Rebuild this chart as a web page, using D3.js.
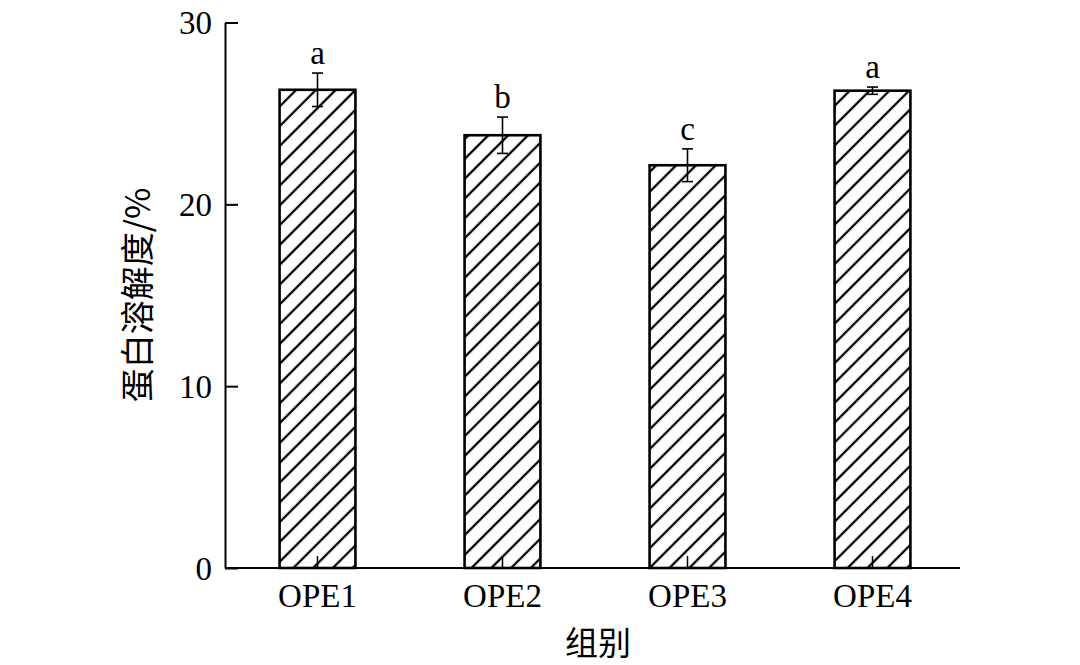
<!DOCTYPE html>
<html><head><meta charset="utf-8">
<script src="https://cdn.jsdelivr.net/npm/d3@7"></script>
<style>body{margin:0;background:#fff}</style>
</head><body>
<svg id="c" width="1080" height="665"></svg>
<script>
const categories = ["OPE1","OPE2","OPE3","OPE4"];
const values = [26.3, 23.8, 22.15, 26.25];
const errors = [0.92, 1.0, 0.9, 0.2];
const letters = ["a","b","c","a"];
const yTicks = [0,10,20,30];
const yLabel = "蛋白溶解度/%";
const xLabel = "组别";

const svg = d3.select("#c");
const serif = "'Liberation Serif','Times New Roman',serif";
const cjk = "'Noto Sans CJK SC','Noto Serif CJK SC',sans-serif";
const x0 = 225, x1 = 960, yBase = 568, yTop = 22.5;

const x = d3.scaleBand().domain(categories).range([x0, x0 + 740]).paddingInner(0.59).paddingOuter(0.295);
const y = d3.scaleLinear().domain([0,30]).range([yBase, yTop]);

const defs = svg.append("defs");
const pat = defs.append("pattern").attr("id","hatch").attr("patternUnits","userSpaceOnUse")
  .attr("width",14).attr("height",14).attr("patternTransform","rotate(45)");
pat.append("rect").attr("width",14).attr("height",14).attr("fill","#fff");
pat.append("line").attr("x1",7).attr("y1",0).attr("x2",7).attr("y2",14)
  .attr("stroke","#000").attr("stroke-width",2.3);

// bars
svg.append("g").selectAll("rect").data(categories).join("rect")
  .attr("x", d => x(d)).attr("width", x.bandwidth())
  .attr("y", (d,i) => y(values[i])).attr("height", (d,i) => yBase - y(values[i]))
  .attr("fill","url(#hatch)").attr("stroke","#000").attr("stroke-width",2.6);

// error bars
const eb = svg.append("g").attr("stroke","#000").attr("stroke-width",1.6);
categories.forEach((d,i) => {
  const cx = x(d) + x.bandwidth()/2;
  const t = y(values[i]+errors[i]), b = y(values[i]-errors[i]);
  eb.append("line").attr("x1",cx).attr("x2",cx).attr("y1",t).attr("y2",b);
  eb.append("line").attr("x1",cx-5.5).attr("x2",cx+5.5).attr("y1",t).attr("y2",t);
  eb.append("line").attr("x1",cx-5.5).attr("x2",cx+5.5).attr("y1",b).attr("y2",b);
  svg.append("text").attr("x",cx).attr("y",t-9).attr("text-anchor","middle")
    .attr("font-family",serif).attr("font-size",33).text(letters[i]);
});

// y axis
const yAxis = svg.append("g").attr("transform",`translate(${x0},0)`)
  .call(d3.axisLeft(y).tickValues(yTicks).tickSize(-13).tickPadding(13).tickSizeOuter(0));
yAxis.select(".domain").attr("stroke-width",2);
yAxis.selectAll(".tick line").attr("stroke-width",2);
yAxis.selectAll("text").attr("font-family",serif).attr("font-size",33).attr("fill","#000").attr("dy","0.34em");

// x axis
const xAxis = svg.append("g").attr("transform",`translate(0,${yBase})`)
  .call(d3.axisBottom(x).tickSize(-12).tickPadding(16).tickSizeOuter(0));
xAxis.select(".domain").attr("stroke-width",2).attr("d",`M${x0},0H${x1}`);
xAxis.selectAll(".tick line").attr("stroke-width",1.5);
xAxis.selectAll("text").attr("font-family",serif).attr("font-size",33).attr("fill","#000").attr("dy","0.71em");

// axis titles
svg.append("text").attr("transform","translate(150,295) rotate(-90)").attr("text-anchor","middle")
  .attr("font-family",cjk).attr("font-size",34).attr("fill","#000").text(yLabel);
svg.append("text").attr("x",598).attr("y",655).attr("text-anchor","middle")
  .attr("font-family",cjk).attr("font-size",33).attr("fill","#000").text(xLabel);
</script>
</body></html>
